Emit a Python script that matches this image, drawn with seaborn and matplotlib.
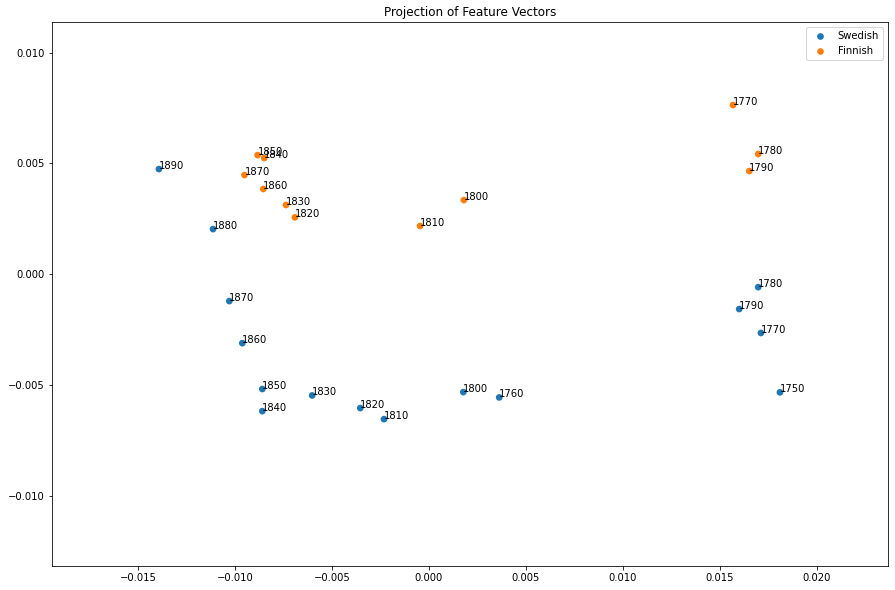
import seaborn as sns
import matplotlib.pyplot as plt
import pandas as pd

# Swedish projection (year, x, y)
swe_years = [1750, 1760, 1770, 1780, 1790, 1800, 1810, 1820, 1830, 1840, 1850, 1860, 1870, 1880, 1890]
swe_x = [0.01809, 0.00362, 0.01711, 0.01697, 0.01599, 0.00177, -0.00232, -0.00354,
         -0.00602, -0.00859, -0.00859, -0.00962, -0.01029, -0.01113, -0.01392]
swe_y = [-0.00534, -0.00557, -0.00266, -0.00059, -0.00158, -0.00533, -0.00655, -0.00605,
         -0.00548, -0.00619, -0.00519, -0.00312, -0.00122, 0.00203, 0.00474]

# Finnish projection
fin_years = [1770, 1780, 1790, 1800, 1810, 1820, 1830, 1840, 1850, 1860, 1870]
fin_x = [0.01567, 0.01697, 0.01651, 0.00180, -0.00046, -0.00691, -0.00737,
         -0.00849, -0.00883, -0.00854, -0.00951]
fin_y = [0.00763, 0.00542, 0.00465, 0.00334, 0.00217, 0.00256, 0.00312,
         0.00524, 0.00537, 0.00384, 0.00447]

df = pd.concat([
    pd.DataFrame({'year': swe_years, 'x': swe_x, 'y': swe_y, 'language': 'Swedish'}),
    pd.DataFrame({'year': fin_years, 'x': fin_x, 'y': fin_y, 'language': 'Finnish'}),
], ignore_index=True)

# reference looks like a 72 dpi render
fig = plt.figure(figsize=(895 / 72, 590 / 72), dpi=72)
ax = fig.add_axes([0.0581, 0.0407, 0.9341, 0.922])

sns.scatterplot(data=df, x='x', y='y', hue='language',
                palette=['#1f77b4', '#ff7f0e'], s=45, linewidth=0, ax=ax)

for _, row in df.iterrows():
    ax.annotate(str(row['year']), (row['x'], row['y']), fontsize=10)

handles, labels = ax.get_legend_handles_labels()
ax.legend(handles, labels, loc='upper right')
ax.set_xlim(-0.01943, 0.02366)
ax.set_ylim(-0.01318, 0.01138)
ax.set_xlabel('')
ax.set_ylabel('')
ax.set_title('Projection of Feature Vectors')

plt.savefig('out.png', dpi=72)
